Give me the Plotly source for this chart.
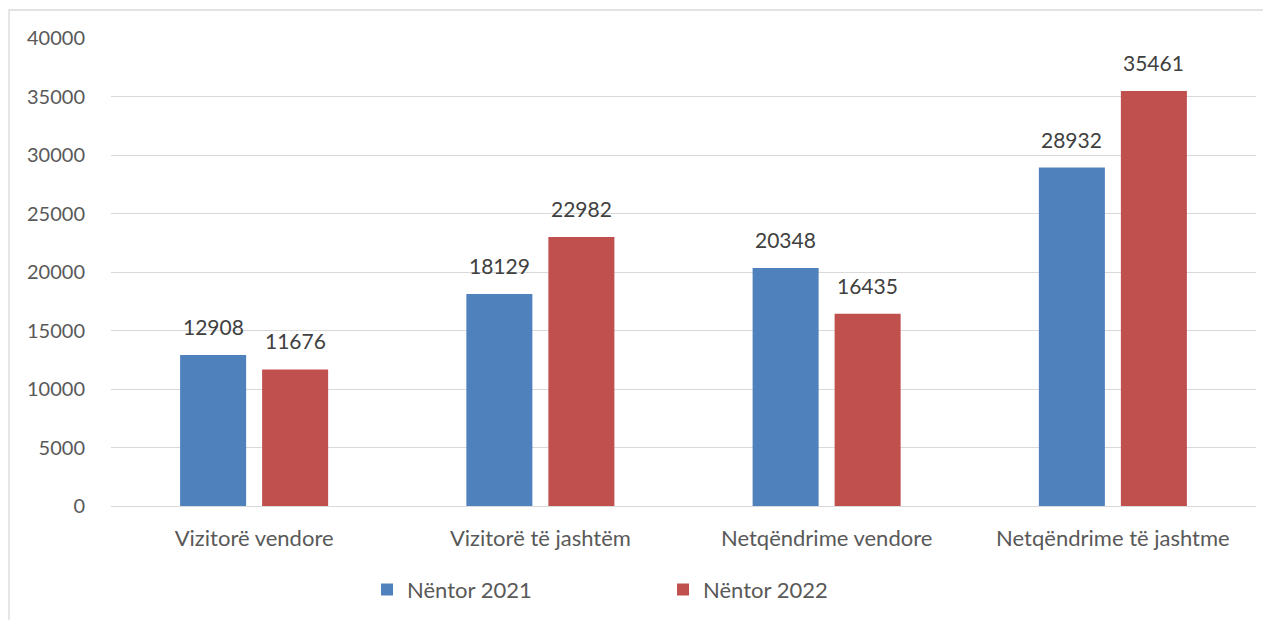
import plotly.graph_objects as go

categories = ["Vizitorë vendore", "Vizitorë të jashtëm", "Netqëndrime vendore", "Netqëndrime të jashtme"]
series_2021 = [12908, 18129, 20348, 28932]
series_2022 = [11676, 22982, 16435, 35461]
name_2021 = "Nëntor 2021"
name_2022 = "Nëntor 2022"
y_ticks = [0, 5000, 10000, 15000, 20000, 25000, 30000, 35000, 40000]

FONT = "Lato, Carlito, Calibri, sans-serif"
BAR_OFFSET_PX = 41

fig = go.Figure()
fig.add_trace(go.Bar(
    x=categories, y=series_2021, name=name_2021,
    marker=dict(color="#4F81BD", line=dict(width=0)),
))
fig.add_trace(go.Bar(
    x=categories, y=series_2022, name=name_2022,
    marker=dict(color="#C0504D", line=dict(width=0)),
))

# data labels above each bar
for values, shift in ((series_2021, -BAR_OFFSET_PX), (series_2022, BAR_OFFSET_PX)):
    for cat, v in zip(categories, values):
        fig.add_annotation(
            x=cat, y=v, xref="x", yref="y", text=str(v), showarrow=False,
            xanchor="center", yanchor="bottom", xshift=shift, yshift=14,
            font=dict(family=FONT, size=21, color="#404040"),
        )

fig.update_layout(
    width=1271, height=620,
    margin=dict(l=103, r=23, t=30, b=122),
    paper_bgcolor="white", plot_bgcolor="white",
    barmode="group", bargap=0.427, bargroupgap=0.195,
    font=dict(family=FONT, size=20, color="#595959"),
    showlegend=True,
    legend=dict(
        orientation="h", x=0.2236, xanchor="left", y=-0.179, yanchor="middle",
        font=dict(family=FONT, size=22, color="#595959"),
        entrywidth=251, entrywidthmode="pixels", itemwidth=30,
        bgcolor="rgba(0,0,0,0)",
    ),
)
fig.update_yaxes(
    range=[0, 40000], tickvals=y_ticks, ticktext=[str(t) for t in y_ticks],
    showgrid=True, gridcolor="#D9D9D9", gridwidth=1.3,
    zeroline=True, zerolinecolor="#D9D9D9", zerolinewidth=1.3,
    showline=False, ticks="", ticklabelstandoff=25,
    tickfont=dict(family=FONT, size=20, color="#595959"),
)
fig.update_xaxes(
    showgrid=False, showline=True, linecolor="#D9D9D9", linewidth=1.3,
    ticks="", ticklabelstandoff=12,
    tickfont=dict(family=FONT, size=22, color="#595959"),
)
fig.add_shape(
    type="rect", xref="paper", yref="paper",
    x0=(1 - 103) / 1145, x1=1.1, y0=-0.5, y1=1 + 28 / 468,
    line=dict(color="#D9D9D9", width=1.3), fillcolor="rgba(0,0,0,0)", layer="below",
)

fig.write_html("out.html")
